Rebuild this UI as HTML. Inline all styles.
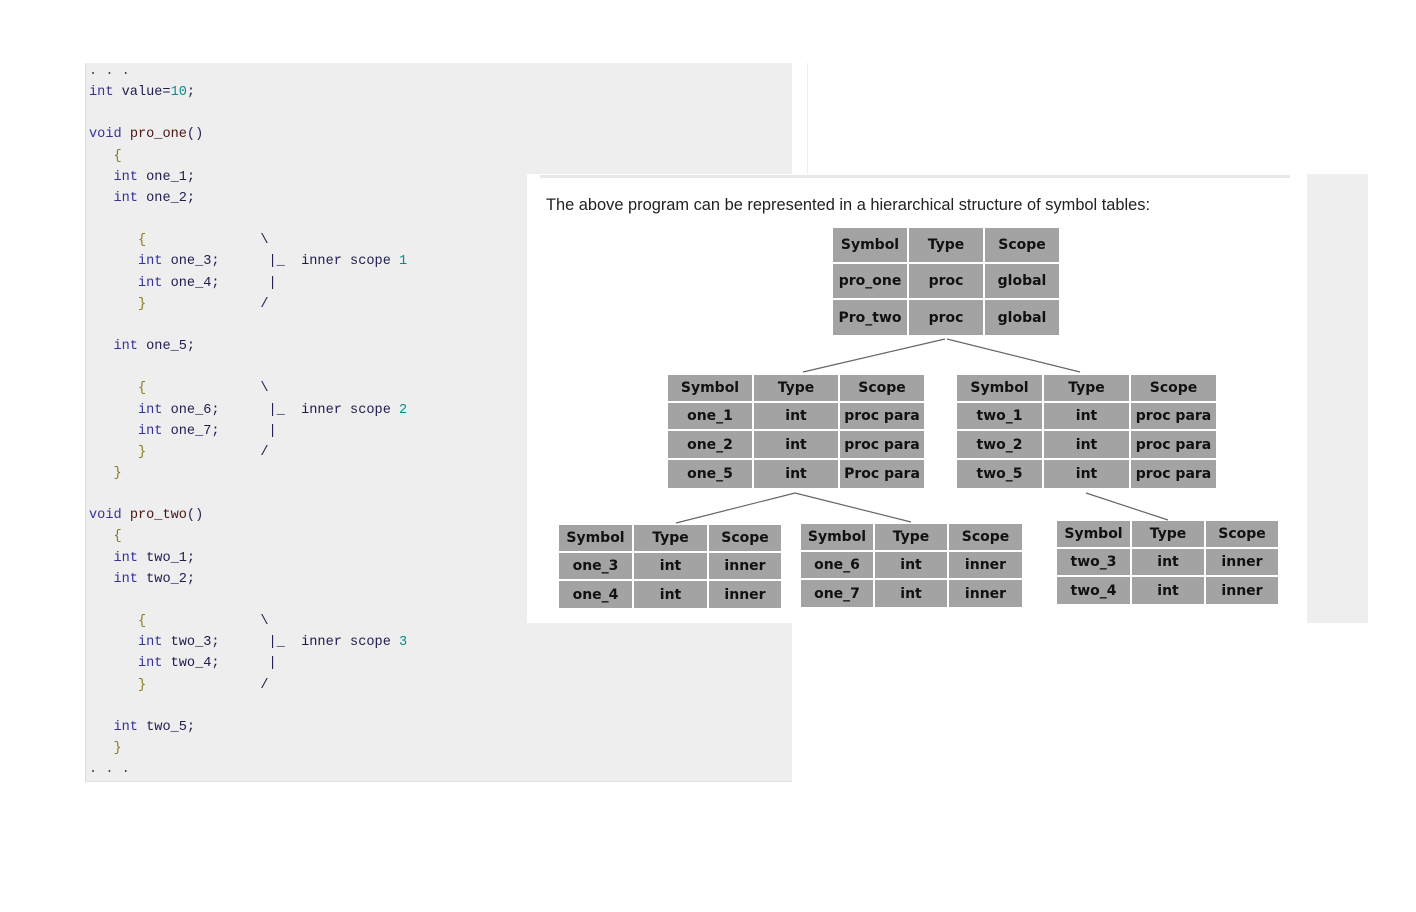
<!DOCTYPE html>
<html><head><meta charset="utf-8">
<style>
body{margin:0;width:1416px;height:912px;background:#fff;position:relative;overflow:hidden}
.code{position:absolute;left:85px;top:63px;width:706px;height:718px;background:#eee;border-left:1px solid #ddd;border-bottom:1px solid #e2e2e2}
pre{position:absolute;left:89px;top:61px;margin:0;font-family:"Liberation Mono",monospace;font-size:13.6px;line-height:21.15px;color:#1d1d50}
.k{color:#33339a}.n{color:#0a8a8a}.b{color:#8a7a20}.f{color:#4a1515}.p{color:#444}
.panel{position:absolute;left:527px;top:174px;width:780px;height:449px;background:#fff}
.topline{position:absolute;left:540px;top:175px;width:750px;height:3px;background:#e8e8e8}
.side{position:absolute;left:1307px;top:174px;width:61px;height:449px;background:#eee}
.sep{position:absolute;left:807px;top:63px;width:1px;height:111px;background:#eee}
.cap{position:absolute;left:546px;top:196px;font-family:"Liberation Sans",sans-serif;font-size:16.4px;color:#222}
table{position:absolute;border-collapse:separate;border-spacing:2px;table-layout:fixed;font-family:"DejaVu Sans",sans-serif;font-weight:bold;font-size:14px;color:#111}
td{background:#a3a3a3;text-align:center;padding:0;white-space:nowrap;overflow:hidden}
svg{position:absolute;left:0;top:0}
</style></head><body>
<div class="code"></div>
<div class="sep"></div>
<pre><span class="p">. . .</span>
<span class="k">int</span> value=<span class="n">10</span>;

<span class="k">void</span> <span class="f">pro_one</span>()
   <span class="b">{</span>
   <span class="k">int</span> one_1;
   <span class="k">int</span> one_2;

      <span class="b">{</span>              \
      <span class="k">int</span> one_3;      |_  inner scope <span class="n">1</span>
      <span class="k">int</span> one_4;      |
      <span class="b">}</span>              /

   <span class="k">int</span> one_5;

      <span class="b">{</span>              \
      <span class="k">int</span> one_6;      |_  inner scope <span class="n">2</span>
      <span class="k">int</span> one_7;      |
      <span class="b">}</span>              /
   <span class="b">}</span>

<span class="k">void</span> <span class="f">pro_two</span>()
   <span class="b">{</span>
   <span class="k">int</span> two_1;
   <span class="k">int</span> two_2;

      <span class="b">{</span>              \
      <span class="k">int</span> two_3;      |_  inner scope <span class="n">3</span>
      <span class="k">int</span> two_4;      |
      <span class="b">}</span>              /

   <span class="k">int</span> two_5;
   <span class="b">}</span>
<span class="p">. . .</span></pre>
<div class="panel"></div>
<div class="topline"></div>
<div class="side"></div>
<div class="cap">The above program can be represented in a hierarchical structure of symbol tables:</div>

<table style="left:831px;top:226px;width:230px">
<colgroup><col style="width:74px"><col style="width:74px"><col style="width:74px"></colgroup>
<tr style="height:34px"><td>Symbol</td><td>Type</td><td>Scope</td></tr>
<tr style="height:34px"><td>pro_one</td><td>proc</td><td>global</td></tr>
<tr style="height:35px"><td>Pro_two</td><td>proc</td><td>global</td></tr>
</table>

<table style="left:666px;top:373px;width:258px">
<colgroup><col style="width:84px"><col style="width:84px"><col style="width:84px"></colgroup>
<tr style="height:26px"><td>Symbol</td><td>Type</td><td>Scope</td></tr>
<tr style="height:26px"><td>one_1</td><td>int</td><td>proc para</td></tr>
<tr style="height:27px"><td>one_2</td><td>int</td><td>proc para</td></tr>
<tr style="height:28px"><td>one_5</td><td>int</td><td>Proc para</td></tr>
</table>

<table style="left:955px;top:373px;width:261px">
<colgroup><col style="width:85px"><col style="width:85px"><col style="width:85px"></colgroup>
<tr style="height:26px"><td>Symbol</td><td>Type</td><td>Scope</td></tr>
<tr style="height:26px"><td>two_1</td><td>int</td><td>proc para</td></tr>
<tr style="height:27px"><td>two_2</td><td>int</td><td>proc para</td></tr>
<tr style="height:28px"><td>two_5</td><td>int</td><td>proc para</td></tr>
</table>

<table style="left:557px;top:523px;width:226px">
<colgroup><col style="width:73px"><col style="width:73px"><col style="width:72px"></colgroup>
<tr style="height:26px"><td>Symbol</td><td>Type</td><td>Scope</td></tr>
<tr style="height:26px"><td>one_3</td><td>int</td><td>inner</td></tr>
<tr style="height:27px"><td>one_4</td><td>int</td><td>inner</td></tr>
</table>

<table style="left:799px;top:522px;width:225px">
<colgroup><col style="width:72px"><col style="width:72px"><col style="width:73px"></colgroup>
<tr style="height:26px"><td>Symbol</td><td>Type</td><td>Scope</td></tr>
<tr style="height:26px"><td>one_6</td><td>int</td><td>inner</td></tr>
<tr style="height:27px"><td>one_7</td><td>int</td><td>inner</td></tr>
</table>

<table style="left:1055px;top:519px;width:225px">
<colgroup><col style="width:73px"><col style="width:72px"><col style="width:72px"></colgroup>
<tr style="height:26px"><td>Symbol</td><td>Type</td><td>Scope</td></tr>
<tr style="height:26px"><td>two_3</td><td>int</td><td>inner</td></tr>
<tr style="height:27px"><td>two_4</td><td>int</td><td>inner</td></tr>
</table>

<svg width="1416" height="912">
<g stroke="#666" stroke-width="1.2" fill="none">
<line x1="945" y1="339" x2="803" y2="372"/>
<line x1="947" y1="339" x2="1080" y2="372"/>
<line x1="795" y1="493" x2="676" y2="523"/>
<line x1="795" y1="493" x2="911" y2="522"/>
<line x1="1086" y1="493" x2="1168" y2="520"/>
</g>
</svg>
</body></html>
